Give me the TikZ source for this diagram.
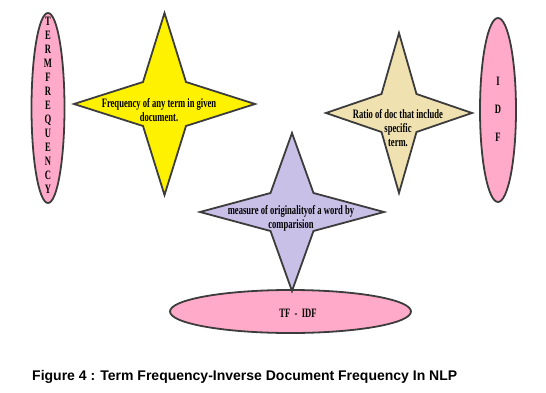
\documentclass[tikz,border=0pt]{standalone}
\usepackage{fontspec}
\usepackage{tikz}
\usetikzlibrary{shapes.geometric}
\newfontfamily\starfont[FakeStretch=0.67]{Liberation Serif}
\newfontfamily\capfont{Liberation Sans}
\definecolor{outline}{HTML}{3C3C3C}
\definecolor{tfpink}{HTML}{FFAAC8}
\definecolor{tfyellow}{HTML}{FFF200}
\definecolor{tftan}{HTML}{F0E2B0}
\definecolor{tfpurple}{HTML}{C8C0E6}
% estrella de cuatro puntas: centro, semiancho, semialto, dx interior, dy interior, relleno
\newcommand{\fourstar}[6]{%
  \begin{scope}[shift={(#1)}]
    \draw[starline, fill=#6] (0,-#3) -- (#4,-#5) -- (#2,0) -- (#4,#5) -- (0,#3)
      -- (-#4,#5) -- (-#2,0) -- (-#4,-#5) -- cycle;
  \end{scope}}

\begin{document}
\begin{tikzpicture}[x=1pt, y=-1pt,
    starline/.style={draw=outline, line width=1.8pt, line join=miter},
    oval/.style={ellipse, draw=outline, line width=1.8pt, fill=tfpink, inner sep=0pt},
    starlabel/.style={align=center, inner sep=0pt, font=\starfont\bfseries\fontsize{12.8}{14}\selectfont}]
    \useasboundingbox (0,0) rectangle (546,393);

    % Ovalos
    \node[oval, minimum width=33pt, minimum height=190pt] (tf) at (48,108) {};
    \node[starlabel] (tftext) at (48,105) {T\\E\\R\\M\\F\\R\\E\\Q\\U\\E\\N\\C\\Y};
    \node[oval, minimum width=36pt, minimum height=184pt] (idf) at (498,110) {};
    \node[starlabel] (idftext) at (498,109) {I\\[14pt]D\\[14pt]F};
    \node[oval, minimum width=241pt, minimum height=43pt] (tfidf) at (290.5,311.5) {};
    \node[starlabel] (tfidftext) at (298,313) {TF \ - \ IDF};

    % Estrellas
    \fourstar{164.5,104}{90.5}{91}{21.5}{22}{tfyellow}
    \node[starlabel] (freq) at (159,110.5) {Frequency of any term in given\\document.};
    \fourstar{399,113}{73}{80}{17.5}{19}{tftan}
    \node[starlabel] (ratio) at (398,128.5) {Ratio of doc that include\\specific\\term.};
    \fourstar{292,212}{92}{79}{21.5}{19}{tfpurple}
    \node[starlabel] (measure) at (291,218) {measure of originalityof a word by\\comparision};

    % Leyenda
    \node[anchor=west, inner sep=0pt, font=\capfont\bfseries\fontsize{14}{16}\selectfont]
      (caption) at (32,377) {Figure 4 : Term Frequency-Inverse Document Frequency In NLP};
\end{tikzpicture}
\end{document}
